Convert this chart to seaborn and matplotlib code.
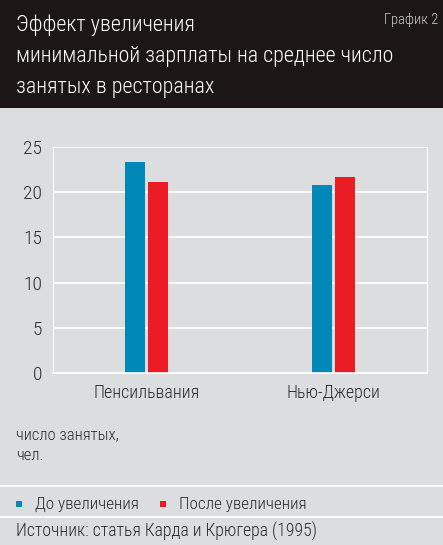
import pandas as pd
import matplotlib.pyplot as plt
import seaborn as sns

states = ['Пенсильвания', 'Нью-Джерси']
periods = ['До увеличения', 'После увеличения']
before = [23.3, 20.8]
after = [21.1, 21.7]
yticks = [0, 5, 10, 15, 20, 25]

df = pd.DataFrame({
    'state': states * 2,
    'period': [periods[0]] * 2 + [periods[1]] * 2,
    'value': before + after,
})

bg = '#dcdddf'
blue = '#0089b8'
red = '#ec1c24'
txt = '#2b2b2b'

sns.set_style('white')
plt.rcParams['font.family'] = ['Roboto Condensed', 'DejaVu Sans']
plt.rcParams['font.weight'] = 'light'

fig = plt.figure(figsize=(4.43, 5.45), dpi=100)
fig.patch.set_facecolor(bg)

# dark header
fig.patches.append(plt.Rectangle((0, 1 - 108 / 545), 1, 108 / 545, transform=fig.transFigure,
                                 facecolor='#1c1617', edgecolor='none', zorder=0))
title_lines = ['Эффект увеличения', 'минимальной зарплаты на среднее число', 'занятых в ресторанах']
for i, line in enumerate(title_lines):
    fig.text(16 / 443, 1 - (25 + 31.5 * i) / 545, line, color='white', fontsize=15.8,
             va='center', ha='left')
fig.text(438 / 443, 1 - 20 / 545, 'График 2', color='#cccccc', fontsize=10.5, va='center', ha='right')

ax = fig.add_axes([53 / 443, (545 - 373) / 545, (427 - 53) / 443, 226 / 545])
ax.set_facecolor(bg)
sns.barplot(data=df, x='state', y='value', hue='period', palette=[blue, red],
            width=0.24, gap=0.1, ax=ax, legend=False, saturation=1, linewidth=0)
ax.set_xlim(-0.5, 1.5)
ax.set_ylim(0, 25)
ax.set_yticks(yticks)
ax.grid(axis='y', color='white', linewidth=1.2)
ax.set_axisbelow(True)
ax.spines['top'].set_visible(False)
for s in ['left', 'right', 'bottom']:
    ax.spines[s].set_color('white')
    ax.spines[s].set_linewidth(0.8)
ax.spines['bottom'].set_linewidth(1.2)
ax.set_xlabel('')
ax.set_ylabel('')
ax.set_xticks([-0.5, 0.5, 1.5], minor=True)
ax.tick_params(axis='x', which='minor', length=5, width=1, color='white', direction='out')
ax.tick_params(axis='x', which='major', length=0, labelsize=13, labelcolor=txt, pad=8)
ax.tick_params(axis='y', length=0, labelsize=14, labelcolor=txt, pad=8)

fig.text(16 / 443, 1 - 435 / 545, 'число занятых,', color=txt, fontsize=12, va='center')
fig.text(16 / 443, 1 - 456 / 545, 'чел.', color=txt, fontsize=12, va='center')

for yy in [486, 517]:
    fig.add_artist(plt.Line2D([0, 1], [1 - yy / 545] * 2, color='white', lw=1.2,
                              transform=fig.transFigure))

fig.patches.append(plt.Rectangle((16 / 443, 1 - 507 / 545), 6 / 443, 6 / 545, transform=fig.transFigure,
                                 facecolor=blue, edgecolor='none'))
fig.text(35 / 443, 1 - 504 / 545, periods[0], color=txt, fontsize=12.3, va='center')
fig.patches.append(plt.Rectangle((160 / 443, 1 - 507 / 545), 6 / 443, 6 / 545, transform=fig.transFigure,
                                 facecolor=red, edgecolor='none'))
fig.text(179 / 443, 1 - 504 / 545, periods[1], color=txt, fontsize=12.3, va='center')
fig.text(16 / 443, 1 - 531 / 545, 'Источник: статья Карда и Крюгера (1995)', color=txt, fontsize=12.8,
         va='center')

fig.savefig('out.png', dpi=100, facecolor=bg)
